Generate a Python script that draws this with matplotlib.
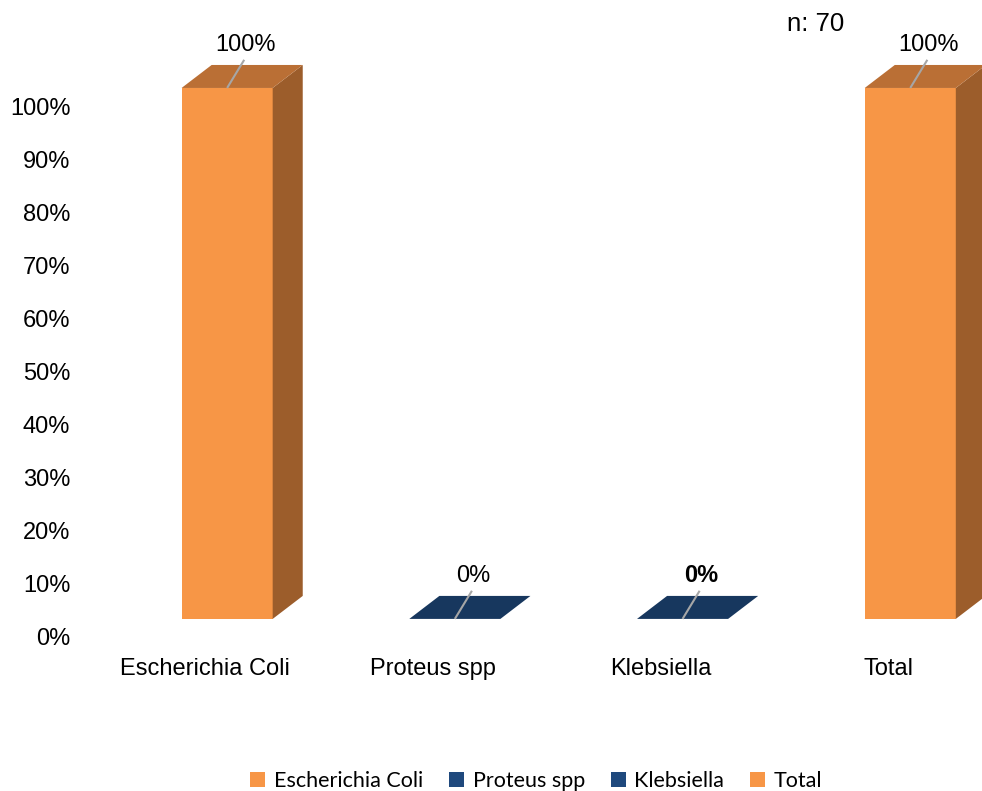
import matplotlib
matplotlib.use('Agg')
import matplotlib.pyplot as plt
from matplotlib.patches import Polygon, Patch

categories = ['Escherichia Coli', 'Proteus spp', 'Klebsiella', 'Total']
values = [100, 0, 0, 100]
value_labels = ['100%', '0%', '0%', '100%']
bold_labels = [False, False, True, False]
yticks = [0, 10, 20, 30, 40, 50, 60, 70, 80, 90, 100]

# face colours: front, top, side
orange = ('#F79646', '#BA6F35', '#9C5D2B')
navy = ('#17375E', '#17375E', '#132F50')
bar_colors = [orange, navy, navy, orange]
legend_colors = ['#F79646', '#1F497D', '#1F497D', '#F79646']

plt.rcParams['font.family'] = ['Liberation Sans', 'DejaVu Sans']

fig = plt.figure(figsize=(9.82, 7.91), dpi=100)
ax = fig.add_axes([0.0815, 0.1746, 0.9185, 0.8122])
ax.set_xlim(-0.549, 3.412)
ax.set_ylim(-3, 118)

# 3D box geometry (category units / percent units)
shift = 0.097   # front face centre relative to category tick
width = 0.40
dx, dy = 0.132, 4.33
base = 3.4

for i, (v, cols) in enumerate(zip(values, bar_colors)):
    x0 = i + shift - width / 2
    x1 = x0 + width
    top = base + v
    if v > 0:
        ax.add_patch(Polygon([(x0, base), (x1, base), (x1, top), (x0, top)],
                             closed=True, facecolor=cols[0], edgecolor='none'))
        ax.add_patch(Polygon([(x1, base), (x1 + dx, base + dy), (x1 + dx, top + dy), (x1, top)],
                             closed=True, facecolor=cols[2], edgecolor='none'))
    ax.add_patch(Polygon([(x0, top), (x1, top), (x1 + dx, top + dy), (x0 + dx, top + dy)],
                         closed=True, facecolor=cols[1], edgecolor='none'))

    # leader line and value label
    cx = i + shift
    ax.plot([cx, cx + 0.075], [top, top + 5.3], color='#A6A6A6', lw=1.5, solid_capstyle='butt')
    ax.text(cx + 0.08, top + 8.1, value_labels[i], ha='center', va='center', fontsize=17,
            fontweight='bold' if bold_labels[i] else 'normal', color='black')

ax.text(2.683, 115.5, 'n: 70', ha='center', va='center', fontsize=18.5)

ax.set_xticks(range(len(categories)))
ax.set_xticklabels(categories, fontsize=17)
ax.set_yticks(yticks)
ax.set_yticklabels([f'{t}%' for t in yticks], fontsize=17)
ax.tick_params(axis='x', length=0, pad=4)
ax.tick_params(axis='y', length=0, pad=7)
for s in ax.spines.values():
    s.set_visible(False)

handles = [Patch(facecolor=c, edgecolor='none', label=l) for c, l in zip(legend_colors, categories)]
fig.legend(handles=handles, loc='center', bbox_to_anchor=(0.546, 0.013), ncol=4, frameon=False,
           prop={'family': 'Lato', 'size': 15.5}, handlelength=0.7, handleheight=0.7,
           handletextpad=0.4, columnspacing=1.2)

fig.savefig('out.png', dpi=100)
